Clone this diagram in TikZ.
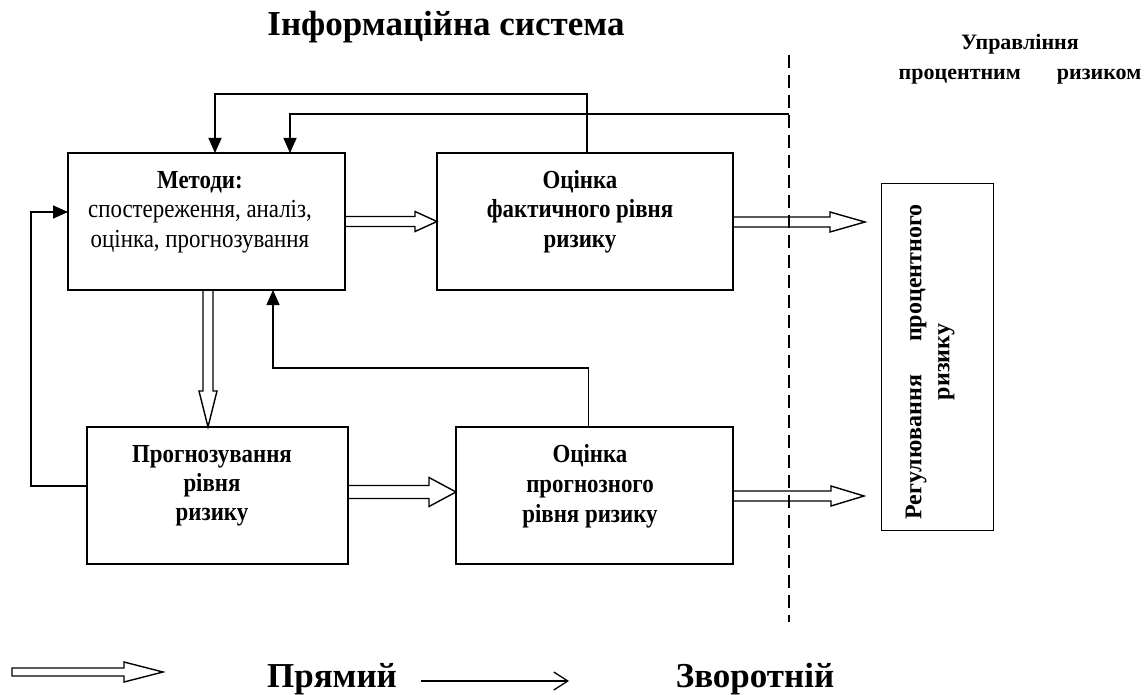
\documentclass[tikz,border=0pt]{standalone}
\usepackage{fontspec}
\setmainfont{Liberation Serif}
\newfontfamily\condfont[FakeStretch=0.88]{Liberation Serif}
\usetikzlibrary{arrows.meta,calc}

% hollow block arrow pointing right: start, tip, head length, half shaft, half head
\newcommand\harrow[5]{%
  \draw[dbl] ($#1+(0,-#4)$) -- ($#2+(-#3,-#4)$) -- ($#2+(-#3,-#5)$) -- #2
    -- ($#2+(-#3,#5)$) -- ($#2+(-#3,#4)$) -- ($#1+(0,#4)$);}
% hollow block arrow pointing down
\newcommand\varrow[5]{%
  \draw[dbl] ($#1+(-#4,0)$) -- ($#2+(-#4,-#3)$) -- ($#2+(-#5,-#3)$) -- #2
    -- ($#2+(#5,-#3)$) -- ($#2+(#4,-#3)$) -- ($#1+(#4,0)$);}

\begin{document}
\begin{tikzpicture}[x=1pt,y=-1pt,
  box/.style={draw, line width=1.6pt, inner sep=0pt, outer sep=0pt, anchor=north west},
  fb/.style={line width=1.5pt, -{Triangle[length=15pt,width=13pt]}},
  dbl/.style={line width=1.4pt, line join=miter},
  txt/.style={align=center, inner sep=0pt, anchor=base},
  boxtxt/.style={txt, font=\condfont\fontsize{26}{29.5}\selectfont},
  divider/.style={line width=1.5pt, dash pattern=on 13pt off 7pt}]
\useasboundingbox (0,0) rectangle (1147,695);

% title and right-hand heading (base = baseline of the last line)
\node[txt, font=\fontsize{35}{38}\selectfont\bfseries] (title) at (446,36) {Інформаційна система};
\node[txt, font=\fontsize{22}{30}\selectfont\bfseries] (mgmt) at (1020,80)
  {Управління\\процентним\hspace{36pt}ризиком};

% dividing line
\coordinate (dtop) at (789,55);
\coordinate (dbot) at (789,622);
\draw[divider] (dtop) -- (dbot);

% blocks
\node[box, minimum width=277pt, minimum height=137pt] (met) at (68,153) {};
\node[box, minimum width=296pt, minimum height=137pt] (fact) at (437,153) {};
\node[box, minimum width=261pt, minimum height=137pt] (prog) at (87,427) {};
\node[box, minimum width=277pt, minimum height=137pt] (est) at (456,427) {};
\node[box, line width=1pt, minimum width=112pt, minimum height=347pt] (reg) at (881,183) {};

% block texts
\node[boxtxt] (mett) at (200,247) {\textbf{Методи:}\\спостереження, аналіз,\\оцінка, прогнозування};
\node[boxtxt, font=\condfont\fontsize{26}{29.5}\selectfont\bfseries] (factt) at (580,247) {Оцінка\\фактичного рівня\\ризику};
\node[boxtxt, font=\condfont\fontsize{26}{29}\selectfont\bfseries] (progt) at (212,520) {Прогнозування\\рівня\\ризику};
\node[boxtxt, font=\condfont\fontsize{26}{30}\selectfont\bfseries] (estt) at (590,522) {Оцінка\\прогнозного\\рівня ризику};
\node[align=center, inner sep=0pt, rotate=90, font=\fontsize{24}{28}\selectfont\bfseries] (regt) at (930,362)
  {Регулювання\hspace{33pt}процентного\\ризику};

% feedback connectors
\coordinate (t1) at (215,94);
\coordinate (t2) at (290,114);
\coordinate (dl) at (789,114);
\coordinate (lf) at (31,486);
\coordinate (la) at (31,212);
\coordinate (mb) at (273,368);
\draw[fb] ([xshift=2pt]fact.north) |- (t1) -- (t1 |- met.north);
\draw[fb] (dl) -| (t2 |- met.north);
\draw[fb] (lf -| prog.west) -- (lf) -- (la) -- (la -| met.west);
\draw[fb] ([xshift=-6pt]est.north) |- (mb) -- (mb |- met.south);

% direct flow (hollow arrows)
\coordinate (btip) at (865,222);
\coordinate (cx) at (208,0);
\coordinate (dy) at (0,492);
\coordinate (etip) at (864,496);
\harrow{(met.east)}{(fact.west)}{22}{5}{10}
\harrow{(fact.east |- btip)}{(btip)}{35}{5}{10}
\varrow{(cx |- met.south)}{(cx |- prog.north)}{36}{5}{9}
\harrow{(dy -| prog.east)}{(dy -| est.west)}{27}{6.5}{14.5}
\harrow{(etip -| est.east)}{(etip)}{33}{5}{10}

% legend
\coordinate (lg1) at (12,672);
\coordinate (lg2) at (163,672);
\draw[dbl] ($(lg1)+(0,-4)$) -- ($(lg2)+(-39,-4)$) -- ($(lg2)+(-39,-10)$) -- (lg2)
  -- ($(lg2)+(-39,10)$) -- ($(lg2)+(-39,4)$) -- ($(lg1)+(0,4)$) -- cycle;
\node[txt, font=\fontsize{35}{38}\selectfont\bfseries] (direct) at (332,687) {Прямий};
\coordinate (th1) at (421,681);
\coordinate (th2) at (569,681);
\draw[line width=1.3pt, -{Straight Barb[length=14pt,width=18pt]}] (th1) -- (th2);
\node[txt, font=\fontsize{35}{38}\selectfont\bfseries] (back) at (755,687) {Зворотній};
\end{tikzpicture}
\end{document}
